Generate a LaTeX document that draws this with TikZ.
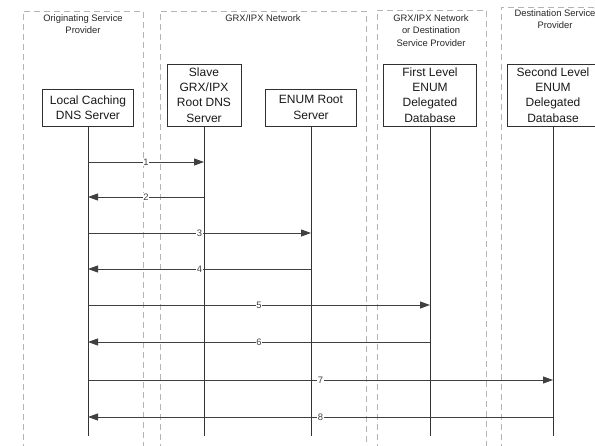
\documentclass[tikz,border=0pt]{standalone}
\usepackage{fontspec}
\setmainfont{Liberation Sans}
\usetikzlibrary{arrows.meta}
\definecolor{zone}{HTML}{B4B4B4}
\definecolor{boxline}{HTML}{303030}
\definecolor{msgline}{HTML}{404040}
\tikzset{
  zoneline/.style={draw=zone, line width=0.8pt, dash pattern=on 6pt off 4pt},
  zonelabel/.style={font=\fontsize{9.4}{12.5}\selectfont, align=center, text=black!85, inner sep=0pt},
  server/.style={draw=boxline, line width=0.8pt, fill=white, align=center, inner sep=0pt,
     font=\fontsize{12}{15.2}\selectfont, text=black!90},
  lifeline/.style={draw=black!80, line width=0.9pt},
  msg/.style={draw=msgline, line width=0.9pt, -{Triangle[length=10pt,width=7pt]}},
  msglabel/.style={midway, fill=white, inner sep=0.8pt, font=\fontsize{9.4}{9.4}\selectfont, text=black!75},
}
\begin{document}
\begin{tikzpicture}[x=1pt,y=1pt]
\useasboundingbox (0,0) rectangle (595,-446);
% zones
\draw[zoneline] (23,-450) -- (23,-11) -- (143,-11) -- (143,-450);
\draw[zoneline] (160,-450) -- (160,-11) -- (366,-11) -- (366,-450);
\draw[zoneline] (377,-450) -- (377,-10) -- (486,-10) -- (486,-450);
\draw[zoneline] (501,-450) -- (501,-7) -- (606,-7) -- (606,-450);
\node[zonelabel, anchor=north] (z1) at (83,-14) {Originating Service\\Provider};
\node[zonelabel, anchor=north] (z2) at (263,-14) {GRX/IPX Network};
\node[zonelabel, anchor=north] (z3) at (431,-14) {GRX/IPX Network\\or Destination\\Service Provider};
\node[zonelabel, anchor=north] (z4) at (555,-9) {Destination Service\\Provider};
% servers
\node[server, minimum width=91pt, minimum height=37pt] (local) at (88,-107.5) {Local Caching\\DNS Server};
\node[server, minimum width=74pt, minimum height=62pt] (slave) at (204,-95) {Slave\\GRX/IPX\\Root DNS\\Server};
\node[server, minimum width=91pt, minimum height=37pt] (root) at (311,-107.5) {ENUM Root\\Server};
\node[server, minimum width=93pt, minimum height=62pt] (first) at (430,-95) {First Level\\ENUM\\Delegated\\Database};
\node[server, minimum width=92pt, minimum height=62pt] (second) at (553,-95) {Second Level\\ENUM\\Delegated\\Database};
% lifelines
\coordinate (bottom) at (0,-436);
\foreach \n in {local,slave,root,first,second}{
  \draw[lifeline] (\n.south) -- (\n.south |- bottom);
}
% messages
\coordinate (m1) at (0,-162);
\coordinate (m2) at (0,-197);
\coordinate (m3) at (0,-233);
\coordinate (m4) at (0,-269);
\coordinate (m5) at (0,-305);
\coordinate (m6) at (0,-342);
\coordinate (m7) at (0,-380);
\coordinate (m8) at (0,-417);
\draw[msg] (local.south |- m1) -- node[msglabel]{1} (slave.south |- m1);
\draw[msg] (slave.south |- m2) -- node[msglabel]{2} (local.south |- m2);
\draw[msg] (local.south |- m3) -- node[msglabel]{3} (root.south |- m3);
\draw[msg] (root.south |- m4) -- node[msglabel]{4} (local.south |- m4);
\draw[msg] (local.south |- m5) -- node[msglabel]{5} (first.south |- m5);
\draw[msg] (first.south |- m6) -- node[msglabel]{6} (local.south |- m6);
\draw[msg] (local.south |- m7) -- node[msglabel]{7} (second.south |- m7);
\draw[msg] (second.south |- m8) -- node[msglabel]{8} (local.south |- m8);
\end{tikzpicture}
\end{document}
